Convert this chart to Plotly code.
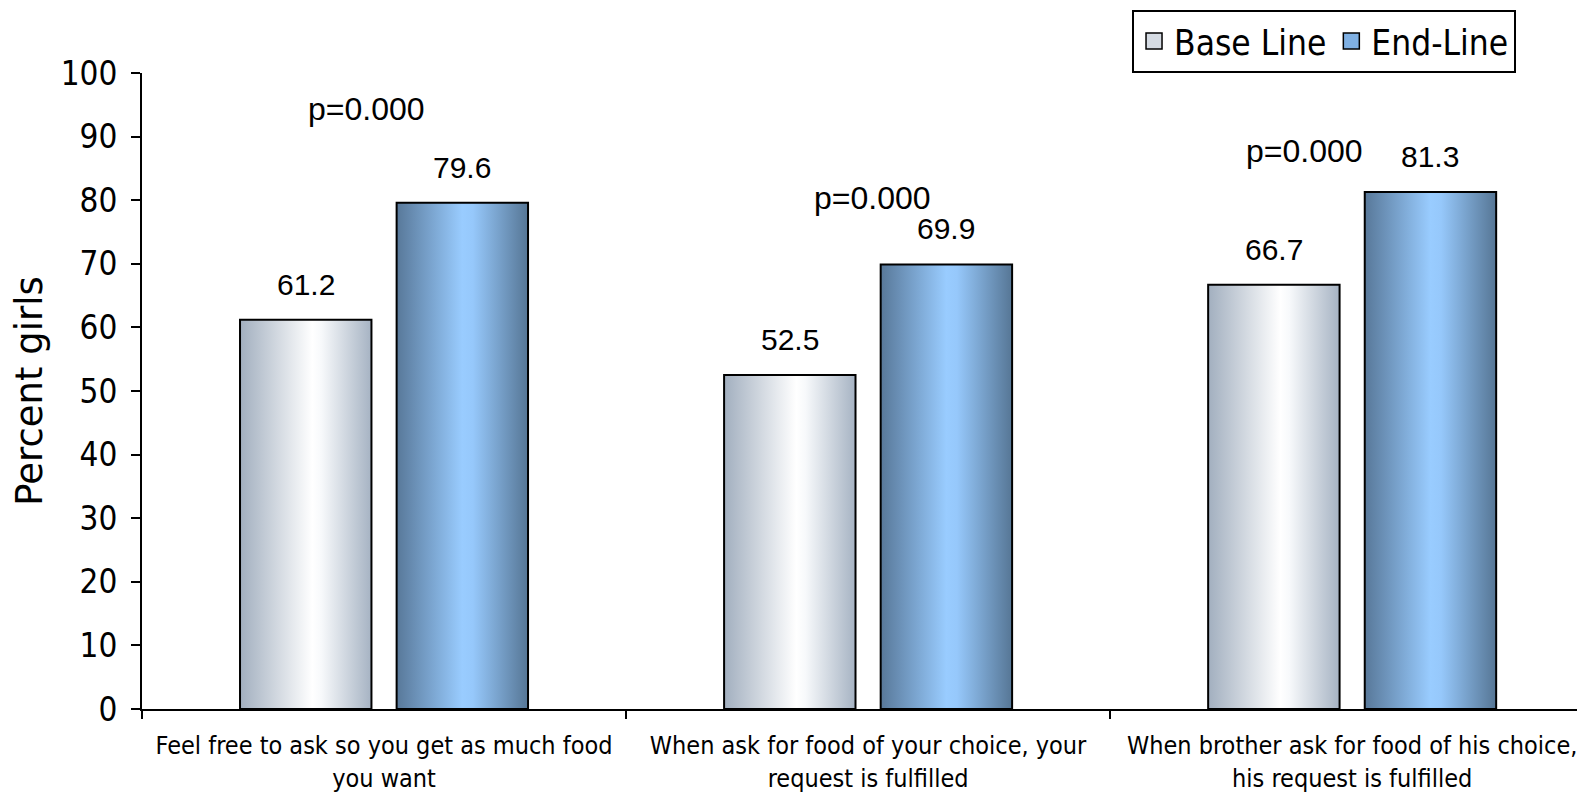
import plotly.graph_objects as go

categories = [
    "Feel free to ask so you get as much food<br>you want",
    "When ask for food of your choice, your<br>request is fulfilled",
    "When brother ask for food of his choice,<br>his request is fulfilled",
]
series_names = ["Base Line", "End-Line"]
base_line = [61.2, 52.5, 66.7]
end_line = [79.6, 69.9, 81.3]
p_labels = ["p=0.000", "p=0.000", "p=0.000"]
p_x = [-0.037, 1.009, 1.901]
p_y = [94.3, 80.3, 87.7]
y_ticks = list(range(0, 101, 10))

BASE_SCALE = [[0, "#a2afbf"], [0.55, "#ffffff"], [0.62, "#f7f9fb"], [1, "#a6b3c3"]]
END_SCALE = [[0, "#587899"], [0.5, "#99ccff"], [0.58, "#96c8fb"], [1, "#567695"]]

LABEL_FONT = "Liberation Sans Narrow, Arial Narrow, Liberation Sans, Arial, sans-serif"
TEXT_FONT = "DejaVu Sans Condensed, DejaVu Sans, Verdana, sans-serif"
WIDE_FONT = "DejaVu Sans, Verdana, sans-serif"

fig = go.Figure()

bar_w = 0.2715
inner_gap = 0.026

for s, (vals, scale, name, mid) in enumerate([
    (base_line, BASE_SCALE, series_names[0], "#d5dbe3"),
    (end_line, END_SCALE, series_names[1], "#7fb0e3"),
]):
    for i, v in enumerate(vals):
        if s == 0:
            x0, x1 = i - inner_gap - bar_w, i - inner_gap
        else:
            x0, x1 = i + inner_gap, i + inner_gap + bar_w
        fig.add_trace(go.Scatter(
            x=[x0, x0, x1, x1, x0], y=[0, v, v, 0, 0],
            mode="lines", fill="toself",
            fillgradient=dict(type="horizontal", colorscale=scale),
            line=dict(color="black", width=2),
            showlegend=False, hoverinfo="skip",
        ))
        fig.add_annotation(x=(x0 + x1) / 2, y=v, text=f"{v:.1f}", showarrow=False,
                           yanchor="bottom", yshift=17,
                           font=dict(family=LABEL_FONT, size=30, color="black"))
    # legend proxy
    fig.add_trace(go.Scatter(
        x=[None], y=[None], mode="markers", name=name,
        marker=dict(symbol="square", size=18, color=mid, line=dict(color="black", width=1.5)),
    ))

for px, py, pt in zip(p_x, p_y, p_labels):
    fig.add_annotation(x=px, y=py, text=pt, showarrow=False,
                       font=dict(family=LABEL_FONT, size=32, color="black"))

# page body adds an 8px offset, so the figure is sized to fill the rest of the window
fig.update_layout(
    width=1577, height=784,
    margin=dict(l=134, r=0, t=64.5, b=82.5, pad=0, autoexpand=False),
    plot_bgcolor="white", paper_bgcolor="white",
    showlegend=True,
    legend=dict(orientation="h", x=0.9522, xanchor="right", y=1.0996, yanchor="top",
                bordercolor="black", borderwidth=2,
                font=dict(family=TEXT_FONT, size=35, color="black"),
                itemwidth=30, tracegroupgap=0),
    xaxis=dict(range=[-0.5, 2.481], showgrid=False, zeroline=False, automargin=False,
               showline=True, linecolor="black", linewidth=2,
               tickmode="array", tickvals=[0, 1, 2], ticktext=categories,
               ticks="", ticklabelstandoff=13,
               tickfont=dict(family=TEXT_FONT, size=25, color="black"),
               minor=dict(tickmode="linear", tick0=-0.5, dtick=1, ticks="outside",
                          ticklen=8, tickwidth=2, tickcolor="black", showgrid=False)),
    yaxis=dict(range=[0, 100], showgrid=False, zeroline=False, automargin=False,
               showline=True, linecolor="black", linewidth=2,
               tickmode="array", tickvals=y_ticks,
               ticks="outside", ticklen=9, tickwidth=2, tickcolor="black",
               ticklabelstandoff=7,
               tickfont=dict(family=TEXT_FONT, size=33, color="black"),
               title=dict(text="Percent girls", standoff=12,
                          font=dict(family=WIDE_FONT, size=37, color="black"))),
)

fig.write_html("out.html")
